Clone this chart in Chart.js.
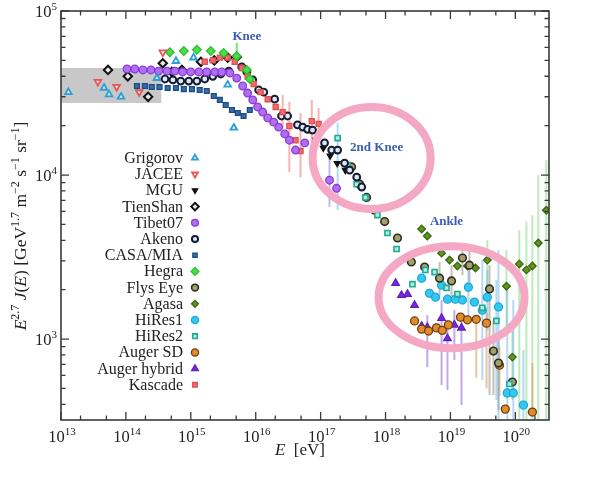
<!DOCTYPE html>
<html>
<head>
<meta charset="utf-8">
<script src="https://cdn.jsdelivr.net/npm/chart.js@4.4.1/dist/chart.umd.min.js"></script>
<style>
  html, body { margin: 0; padding: 0; background: #fff; }
  #chart { display: block; }
</style>
</head>
<body>
<canvas id="chart" width="592" height="478"></canvas>
<script>
// Rangos de los ejes
const xMin = 1e13, xMax = 3.3e20, yMin = 321, yMax = 1e5;
const xTickExp = [13, 14, 15, 16, 17, 18, 19, 20];
const yTickExp = [3, 4, 5];

// Banda gris de baja energía
const bandE = [1e13, 3.5e14];
const bandF = [2.75e4, 4.49e4];

// Datos por experimento (E en eV, flujo E^2.7 J(E))
const grigorovE = [1.3e13, 4.6e13, 5.5e13, 8.4e13, 3.0e14, 5.9e14, 1.1e15, 3.7e15, 4.6e15];
const grigorovF = [3.2e4, 3.4e4, 3.1e4, 3.0e4, 3.9e4, 4.95e4, 5.2e4, 3.55e4, 1.94e4];

const jaceeE = [3.7e13, 7.2e13, 1.6e14, 3.7e14];
const jaceeF = [3.7e4, 3.45e4, 3.2e4, 5.6e4];

const mguE = [8.4e16, 1.1e17, 1.4e17, 1.8e17, 2.4e17];
const mguF = [1.63e4, 1.46e4, 1.31e4, 1.18e4, 1.07e4];

const tienShanE = [5.3e13, 1.07e14, 2.2e14, 3.7e14, 5.1e14, 7.3e14, 1.43e15, 2.3e15, 3.7e15, 5.1e15];
const tienShanF = [4.37e4, 4.0e4, 3.0e4, 4.8e4, 4.25e4, 4.37e4, 4.9e4, 5.0e4, 5.2e4, 5.25e4];

const tibetE = [1.04e14, 1.37e14, 1.83e14, 2.43e14, 3.2e14, 4.3e14, 5.7e14, 7.5e14, 1.0e15, 1.33e15,
  1.76e15, 2.34e15, 3.0e15, 4.0e15, 5.1e15, 6.3e15, 7.5e15, 9.0e15, 1.07e16, 1.28e16,
  1.53e16, 1.89e16, 2.26e16, 2.8e16, 3.3e16, 4.1e16, 5.7e16, 1.37e17, 1.76e17];
const tibetF = [4.43e4, 4.43e4, 4.37e4, 4.37e4, 4.3e4, 4.3e4, 4.3e4, 4.25e4, 4.25e4, 4.25e4,
  4.25e4, 4.25e4, 4.25e4, 4.19e4, 3.9e4, 3.49e4, 3.16e4, 2.87e4, 2.6e4, 2.42e4,
  2.23e4, 2.1e4, 1.96e4, 1.78e4, 1.63e4, 1.42e4, 1.57e4, 9.3e3, 8.3e3];

const akenoE = [4.0e14, 5.3e14, 7.0e14, 9.3e14, 1.24e15, 1.64e15, 2.18e15, 2.9e15, 3.85e15, 6.1e15,
  7.3e15, 9.0e15, 1.11e16, 1.33e16, 1.96e16, 2.5e16, 3.1e16, 4.4e16, 5.3e16, 6.3e16,
  7.5e16, 1.15e17, 1.48e17, 1.83e17, 2.34e17, 2.8e17, 3.6e17, 4.3e17];
const akenoF = [3.85e4, 3.8e4, 3.74e4, 3.74e4, 3.74e4, 3.85e4, 4.0e4, 4.13e4, 4.3e4, 4.56e4,
  4.25e4, 3.8e4, 3.3e4, 3.2e4, 2.9e4, 2.29e4, 2.29e4, 2.02e4, 1.96e4, 1.9e4,
  1.88e4, 1.57e4, 1.42e4, 1.42e4, 1.18e4, 1.07e4, 9.7e3, 8.45e3];

const casaE = [1.48e14, 1.96e14, 2.5e14, 3.3e14, 4.4e14, 5.9e14, 7.8e14, 1.04e15, 1.37e15, 1.76e15,
  2.26e15, 2.8e15, 3.45e15, 4.3e15, 5.3e15, 6.5e15, 8.1e15];
const casaF = [3.49e4, 3.49e4, 3.44e4, 3.44e4, 3.39e4, 3.39e4, 3.34e4, 3.34e4, 3.3e4, 3.25e4,
  3.03e4, 2.87e4, 2.67e4, 2.49e4, 2.39e4, 2.29e4, 2.49e4];

const hegraE = [4.75e14, 7.8e14, 1.24e15, 2.03e15, 3.2e15, 5.1e15, 7.3e15, 8.1e15];
const hegraF = [5.6e4, 5.7e4, 5.8e4, 5.7e4, 5.55e4, 5.3e4, 4.37e4, 3.85e4];

const flysEyeE = [3.0e17, 4.0e17, 5.1e17, 6.8e17, 9.7e17, 1.53e18, 2.5e18, 4.0e18, 6.8e18, 1.04e19,
  1.53e19, 1.96e19, 4.0e19, 4.6e19, 5.5e19, 9.0e19];
const flysEyeF = [1.12e4, 8.8e3, 7.3e3, 6.1e3, 5.2e3, 4.13e3, 2.95e3, 2.75e3, 2.35e3, 2.26e3,
  3.12e3, 2.82e3, 2.02e3, 845, 714, 547];

const agasaE = [3.6e18, 4.4e18, 7.3e18, 9.7e18, 1.28e19, 1.83e19, 2.43e19, 3.7e19, 7.3e19, 9.0e19,
  1.15e20, 1.48e20, 1.83e20, 2.26e20, 3.0e20];
const agasaF = [4.69e3, 4.25e3, 3.34e3, 3.03e3, 2.79e3, 2.79e3, 2.71e3, 3.03e3, 2.1e3, 776,
  2.87e3, 2.64e3, 2.79e3, 3.85e3, 6.1e3];

const hires1E = [3.6e18, 4.75e18, 5.9e18, 7.3e18, 9.0e18, 1.19e19, 1.53e19, 1.89e19, 2.34e19, 3.1e19,
  3.7e19, 5.5e19, 7.5e19, 9.3e19, 1.33e20];
const hires1F = [2.35e3, 1.9e3, 1.8e3, 2.13e3, 1.75e3, 1.75e3, 1.73e3, 2.07e3, 1.68e3, 1.5e3,
  1.8e3, 1.57e3, 469, 469, 396];

const hires2E = [1.83e17, 2.6e17, 3.6e17, 4.9e17, 7.5e17, 1.07e18, 1.48e18, 2.6e18, 4.1e18, 5.7e18,
  8.7e18, 1.28e19, 3.1e19, 5.1e19, 8.1e19];
const hires2F = [1.68e4, 1.15e4, 8.8e3, 7.3e3, 5.7e3, 4.43e3, 3.54e3, 2.16e3, 2.64e3, 2.56e3,
  2.05e3, 1.88e3, 1.55e3, 1.29e3, 532];

const augerSdE = [2.8e18, 3.6e18, 4.6e18, 6.1e18, 7.5e18, 9.3e18, 1.43e19, 1.83e19, 2.5e19, 3.6e19,
  5.7e19, 7.0e19, 1.83e20];
const augerSdF = [1.29e3, 1.15e3, 1.12e3, 1.17e3, 1.13e3, 1.22e3, 1.36e3, 1.31e3, 1.32e3, 1.25e3,
  693, 374, 359];

const augerHybE = [1.43e18, 1.76e18, 2.18e18, 2.8e18, 3.6e18, 4.4e18, 7.3e18, 9.0e18, 1.15e19, 1.48e19];
const augerHybF = [2.19e3, 1.85e3, 1.88e3, 1.61e3, 1.2e3, 1.18e3, 1.34e3, 1.01e3, 1.22e3, 1.17e3];

const kascadeE = [1.64e15, 2.18e15, 2.8e15, 3.7e15, 4.75e15, 6.1e15, 7.5e15, 9.3e15, 1.19e16, 1.53e16,
  2.03e16, 2.6e16, 3.3e16, 4.1e16, 4.9e16, 7.3e16, 9.3e16];
const kascadeF = [4.9e4, 5.0e4, 5.2e4, 5.2e4, 4.9e4, 4.49e4, 4.0e4, 3.59e4, 3.2e4, 2.9e4,
  2.6e4, 2.42e4, 1.99e4, 1.63e4, 1.4e4, 2.13e4, 2.05e4];

// Barras de error: [E, flujo mínimo, flujo máximo]
const hegraErr = [[5.1e15, 4.8e4, 6.4e4]];
const tibetErr = [[1.37e17, 6.4e3, 1.29e4]];
const kascadeErr = [[2.6e16, 1.96e4, 3.08e4], [3.3e16, 1.04e4, 2.79e4], [4.9e16, 9.7e3, 2.39e4],
  [7.3e16, 1.42e4, 2.87e4], [9.3e16, 1.63e4, 2.56e4]];
const hires2Err = [[1.83e17, 6.1e3, 2.08e4], [5.1e19, 425, 2.29e3]];
const flysEyeErr = [[6.8e18, 1.85e3, 2.95e3], [1.04e19, 1.73e3, 2.82e3], [1.53e19, 2.45e3, 3.74e3],
  [1.96e19, 1.99e3, 3.49e3], [4.0e19, 456, 2.82e3], [4.6e19, 456, 1.31e3], [5.5e19, 369, 1.06e3]];
const agasaErr = [[3.7e19, 1.73e3, 4.0e3], [7.3e19, 1.13e3, 3.49e3], [9.0e19, 425, 1.13e3],
  [1.15e20, 279, 4.62e3], [1.48e20, 279, 5.2e3], [1.83e20, 279, 5.7e3], [2.26e20, 279, 1.0e4], [3.0e20, 279, 1.23e4]];
const hires1Err = [[1.89e19, 1.31e3, 2.82e3], [3.1e19, 562, 3.03e3], [3.7e19, 1.13e3, 2.64e3],
  [5.5e19, 321, 3.49e3], [7.5e19, 280, 1.99e3], [9.3e19, 280, 1.73e3], [1.33e20, 280, 857]];
const augerSdErr = [[2.5e19, 580, 1.4e3], [3.6e19, 500, 1.45e3], [5.7e19, 450, 900], [1.83e20, 340, 714]];
const augerHybErr = [[4.4e18, 675, 1.4e3], [7.3e18, 525, 1.73e3], [9.0e18, 489, 1.31e3],
  [1.15e19, 745, 1.5e3], [1.48e19, 396, 1.31e3]];

// Anotaciones
const ringE = [6.1e17, 1.04e19];
const ringF = [1.27e4, 1.8e3];
const noteText = ['Knee', '2nd Knee', 'Ankle'];
const noteE = [7.3e15, 7.3e17, 8.7e18];
const noteF = [6.7e4, 1.4e4, 4.96e3];

// Leyenda (orden de la figura)
const legendNames = ['Grigorov', 'JACEE', 'MGU', 'TienShan', 'Tibet07', 'Akeno', 'CASA/MIA', 'Hegra',
  'Flys Eye', 'Agasa', 'HiRes1', 'HiRes2', 'Auger SD', 'Auger hybrid', 'Kascade'];

function pts(es, fs) {
  return es.map((e, i) => ({ x: e, y: fs[i] }));
}

function serie(label, es, fs, style) {
  return Object.assign({ label: label, data: pts(es, fs), pointRadius: 3.8, borderWidth: 1.3,
    pointBorderWidth: 1.3, showLine: false }, style);
}

const datasets = [
  serie('Grigorov', grigorovE, grigorovF, { pointStyle: 'triangle', backgroundColor: 'rgba(255,255,255,0.5)', borderColor: '#2a9fd8', pointBorderWidth: 1.8 }),
  serie('JACEE', jaceeE, jaceeF, { pointStyle: 'triangle', rotation: 180, backgroundColor: 'rgba(255,255,255,0.5)', borderColor: '#e85555', pointBorderWidth: 1.8 }),
  serie('Hegra', hegraE, hegraF, { pointStyle: 'rectRot', backgroundColor: '#4ade4a', borderColor: '#2fbf2f', pointRadius: 4.3 }),
  serie('CASA/MIA', casaE, casaF, { pointStyle: 'rect', backgroundColor: '#3470ad', borderColor: '#1d4a80', pointRadius: 3.4 }),
  serie('Tibet07', tibetE, tibetF, { pointStyle: 'circle', backgroundColor: '#b06ef0', borderColor: '#8a3ad8', pointRadius: 3.8 }),
  serie('Kascade', kascadeE, kascadeF, { pointStyle: 'rect', backgroundColor: '#f26b6b', borderColor: '#e05050', pointRadius: 3.6 }),
  serie('TienShan', tienShanE, tienShanF, { pointStyle: 'rectRot', backgroundColor: '#e8e8e8', borderColor: '#111', pointBorderWidth: 2, pointRadius: 4.2 }),
  serie('Akeno', akenoE, akenoF, { pointStyle: 'circle', backgroundColor: '#dfe8f2', borderColor: '#141c34', pointBorderWidth: 2, pointRadius: 3.4 }),
  serie('MGU', mguE, mguF, { pointStyle: 'triangle', rotation: 180, backgroundColor: '#111', borderColor: '#111', pointRadius: 3.4 }),
  serie('HiRes2', hires2E, hires2F, { pointStyle: 'rect', backgroundColor: '#aeeedd', borderColor: '#24a894', pointBorderWidth: 1.6, pointRadius: 3.6 }),
  serie('Flys Eye', flysEyeE, flysEyeF, { pointStyle: 'circle', backgroundColor: '#a3a06c', borderColor: '#2e2e22', pointBorderWidth: 1.6, pointRadius: 3.8 }),
  serie('Agasa', agasaE, agasaF, { pointStyle: 'rectRot', backgroundColor: '#5f9420', borderColor: '#3b6610', pointRadius: 3.8 }),
  serie('HiRes1', hires1E, hires1F, { pointStyle: 'circle', backgroundColor: '#34c8f0', borderColor: '#1ea6d6', pointRadius: 4 }),
  serie('Auger SD', augerSdE, augerSdF, { pointStyle: 'circle', backgroundColor: '#e38a2a', borderColor: '#6e4010', pointRadius: 4 }),
  serie('Auger hybrid', augerHybE, augerHybF, { pointStyle: 'triangle', backgroundColor: '#7a2ad8', borderColor: '#6020c0', pointRadius: 4.3 })
];

const errorSets = [
  { data: hegraErr, color: 'rgba(70,220,70,0.75)' },
  { data: tibetErr, color: 'rgba(150,120,230,0.55)' },
  { data: kascadeErr, color: 'rgba(238,130,130,0.6)' },
  { data: hires2Err, color: 'rgba(140,205,240,0.7)' },
  { data: flysEyeErr, color: 'rgba(150,140,120,0.55)' },
  { data: agasaErr, color: 'rgba(120,220,120,0.5)' },
  { data: hires1Err, color: 'rgba(110,175,240,0.5)' },
  { data: augerSdErr, color: 'rgba(215,160,100,0.6)' },
  { data: augerHybErr, color: 'rgba(150,110,220,0.6)' }
];

const serif = '"Liberation Serif", "DejaVu Serif", serif';
const textColor = '#222';

// Texto con superíndices: partes [texto, tipo] tipo 'n' normal, 'i' cursiva, 's' superíndice
function drawRich(ctx, parts, x, y, size, align) {
  const fontFor = k => (k === 'i' ? 'italic ' : '') + (k === 's' ? Math.round(size * 0.66) : size) + 'px ' + serif;
  let w = 0;
  parts.forEach(p => { ctx.font = fontFor(p[1]); w += ctx.measureText(p[0]).width; });
  let cx = align === 'right' ? x - w : align === 'center' ? x - w / 2 : x;
  ctx.textAlign = 'left';
  ctx.textBaseline = 'alphabetic';
  parts.forEach(p => {
    ctx.font = fontFor(p[1]);
    ctx.fillText(p[0], cx, p[1] === 's' ? y - size * 0.42 : y);
    cx += ctx.measureText(p[0]).width;
  });
}

const decor = {
  id: 'decor',
  beforeDatasetsDraw(chart) {
    const { ctx, chartArea: a, scales: { x, y } } = chart;
    ctx.save();
    ctx.beginPath();
    ctx.rect(a.left, a.top, a.right - a.left, a.bottom - a.top);
    ctx.clip();
    // banda gris
    const bx0 = x.getPixelForValue(bandE[0]), bx1 = x.getPixelForValue(bandE[1]);
    const by0 = y.getPixelForValue(bandF[1]), by1 = y.getPixelForValue(bandF[0]);
    ctx.fillStyle = '#c8c8c8';
    ctx.fillRect(bx0, by0, bx1 - bx0, by1 - by0);
    // barras de error
    errorSets.forEach(s => {
      ctx.strokeStyle = s.color;
      ctx.lineWidth = 2;
      s.data.forEach(([e, lo, hi]) => {
        const px = x.getPixelForValue(e);
        ctx.beginPath();
        ctx.moveTo(px, y.getPixelForValue(lo));
        ctx.lineTo(px, y.getPixelForValue(hi));
        ctx.stroke();
      });
    });
    ctx.restore();
  },
  afterDatasetsDraw(chart) {
    const { ctx, chartArea: a, scales: { x, y } } = chart;
    ctx.save();
    // círculos rosas
    const radii = [[59, 51], [73, 51]];
    ctx.strokeStyle = '#f4a8c4';
    ctx.lineWidth = 8;
    ringE.forEach((e, i) => {
      ctx.beginPath();
      ctx.ellipse(x.getPixelForValue(e), y.getPixelForValue(ringF[i]), radii[i][0], radii[i][1], 0, 0, Math.PI * 2);
      ctx.stroke();
    });
    // notas
    ctx.fillStyle = '#3d5db3';
    ctx.font = 'bold 13px ' + serif;
    ctx.textAlign = 'center';
    ctx.textBaseline = 'alphabetic';
    noteText.forEach((t, i) => ctx.fillText(t, x.getPixelForValue(noteE[i]), y.getPixelForValue(noteF[i])));

    // marco
    ctx.strokeStyle = '#3a3a3a';
    ctx.lineWidth = 1.6;
    ctx.strokeRect(a.left, a.top, a.right - a.left, a.bottom - a.top);

    // marcas de los ejes
    ctx.lineWidth = 1.3;
    const tickX = (v, len) => {
      const px = x.getPixelForValue(v);
      if (px < a.left - 0.5 || px > a.right + 0.5) return;
      ctx.beginPath();
      ctx.moveTo(px, a.bottom); ctx.lineTo(px, a.bottom - len);
      ctx.moveTo(px, a.top); ctx.lineTo(px, a.top + len);
      ctx.stroke();
    };
    const tickY = (v, len) => {
      const py = y.getPixelForValue(v);
      if (py < a.top - 0.5 || py > a.bottom + 0.5) return;
      ctx.beginPath();
      ctx.moveTo(a.left, py); ctx.lineTo(a.left + len, py);
      ctx.moveTo(a.right, py); ctx.lineTo(a.right - len, py);
      ctx.stroke();
    };
    xTickExp.forEach(p => {
      tickX(Math.pow(10, p), 8);
      [2, 5].forEach(m => tickX(m * Math.pow(10, p), 4.5));
    });
    [2, 3, 4, 5].forEach(p => {
      tickY(Math.pow(10, p), 8);
      [2, 3, 4, 5, 6, 7, 8, 9].forEach(m => tickY(m * Math.pow(10, p), 4.5));
    });

    // etiquetas de los ejes
    ctx.fillStyle = textColor;
    xTickExp.forEach(p => drawRich(ctx, [['10', 'n'], [String(p), 's']], x.getPixelForValue(Math.pow(10, p)) + 1, a.bottom + 22, 16.5, 'center'));
    yTickExp.forEach(p => drawRich(ctx, [['10', 'n'], [String(p), 's']], a.left - 4, y.getPixelForValue(Math.pow(10, p)) + 6, 16.5, 'right'));

    // título eje x
    drawRich(ctx, [['E', 'i'], ['  [eV]', 'n']], 300, 455, 17, 'center');

    // título eje y (vertical)
    ctx.save();
    ctx.translate(26, 226);
    ctx.rotate(-Math.PI / 2);
    drawRich(ctx, [['E', 'i'], ['2.7', 's'], [' ', 'n'], ['J', 'i'], ['(', 'n'], ['E', 'i'], [') [GeV', 'n'], ['1.7', 's'],
      [' m', 'n'], ['\u22122', 's'], [' s', 'n'], ['\u22121', 's'], [' sr', 'n'], ['\u22121', 's'], [']', 'n']], 0, 0, 17.5, 'center');
    ctx.restore();

    // leyenda
    const lx = 183, ly0 = 158, ldy = 16.2;
    legendNames.forEach((name, i) => {
      const ly = ly0 + i * ldy;
      ctx.fillStyle = textColor;
      ctx.font = '16px ' + serif;
      ctx.textAlign = 'right';
      ctx.textBaseline = 'alphabetic';
      ctx.fillText(name, lx, ly + 5);
      const ds = chart.data.datasets.find(d => d.label === name);
      ctx.fillStyle = ds.backgroundColor;
      ctx.strokeStyle = ds.borderColor;
      ctx.lineWidth = ds.pointBorderWidth;
      Chart.helpers.drawPoint(ctx, { pointStyle: ds.pointStyle, radius: ds.pointRadius * 0.9, rotation: ds.rotation || 0, borderWidth: ds.pointBorderWidth }, lx + 12, ly);
    });
    ctx.restore();
  }
};

new Chart(document.getElementById('chart'), {
  type: 'scatter',
  data: { datasets: datasets },
  options: {
    responsive: false,
    animation: false,
    devicePixelRatio: 1,
    layout: { padding: { left: 61, right: 43, top: 11, bottom: 58 } },
    plugins: { legend: { display: false }, tooltip: { enabled: false } },
    scales: {
      x: { type: 'logarithmic', min: xMin, max: xMax, display: false },
      y: { type: 'logarithmic', min: yMin, max: yMax, display: false }
    }
  },
  plugins: [decor]
});
</script>
</body>
</html>
